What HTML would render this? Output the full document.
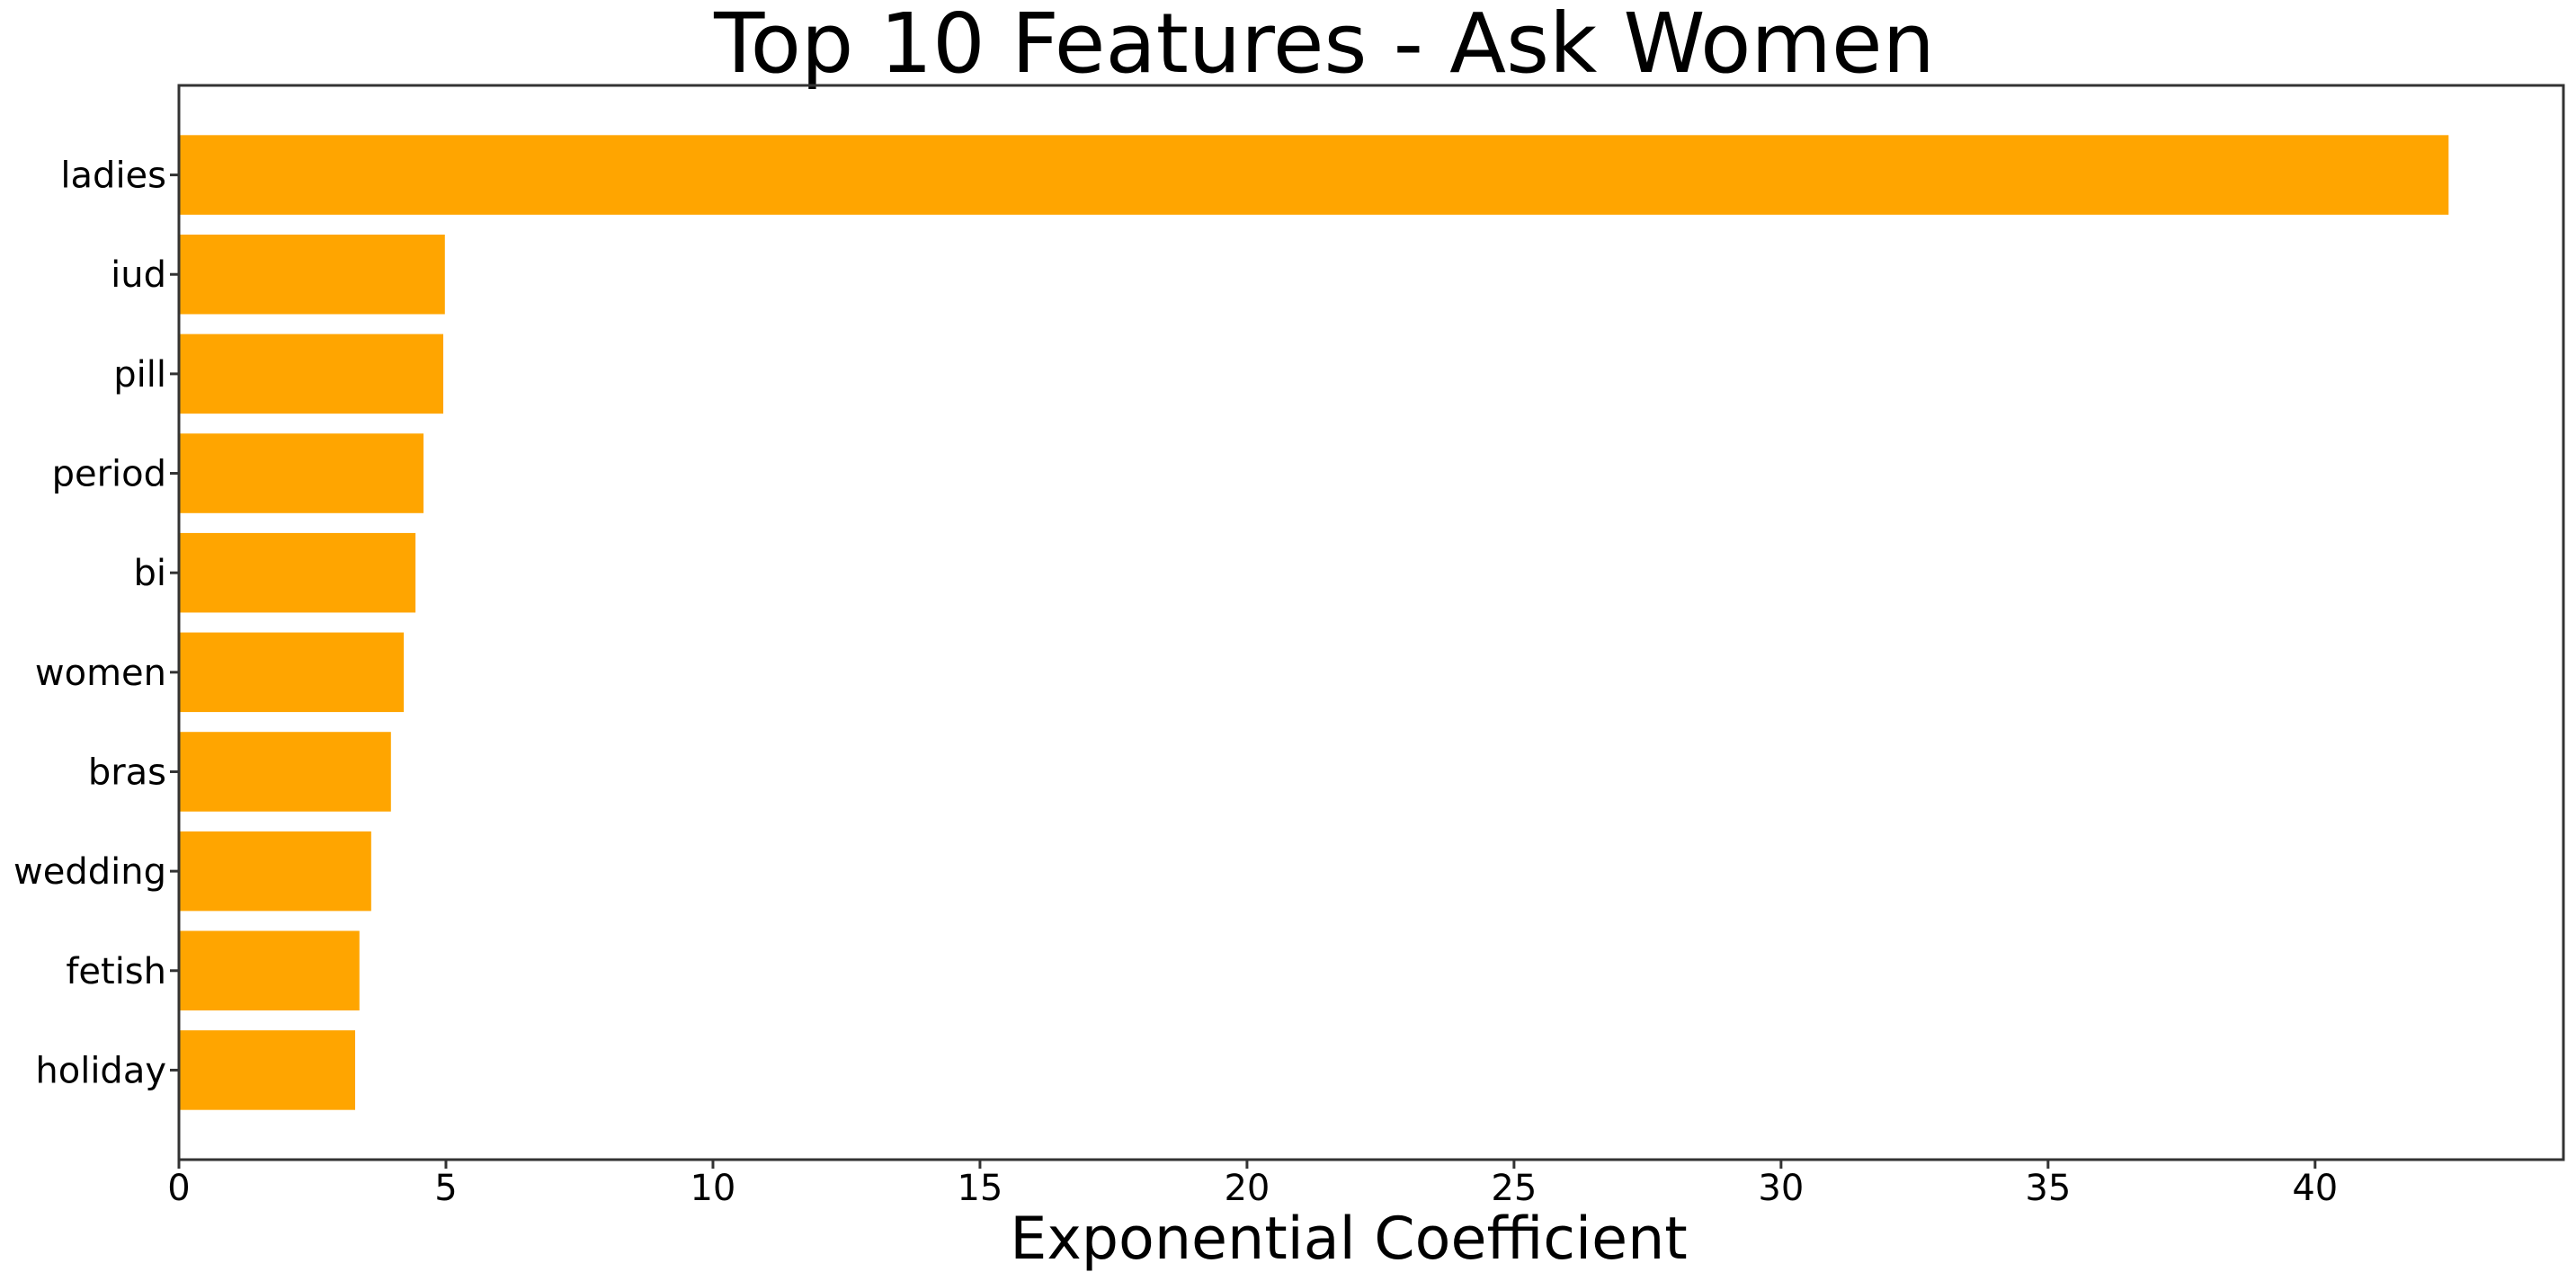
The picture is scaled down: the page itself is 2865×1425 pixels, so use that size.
<!DOCTYPE html>
<html><head><meta charset="utf-8"><style>
html,body{margin:0;padding:0;background:#fff;}
svg{display:block;font-family:"DejaVu Sans","Liberation Sans",sans-serif;}
</style></head><body>
<svg id="chart" width="2865" height="1425" xmlns="http://www.w3.org/2000/svg">
<text x="1473" y="80" font-size="92" text-anchor="middle">Top 10 Features - Ask Women</text>
<text x="1500" y="1400" font-size="65" text-anchor="middle">Exponential Coefficient</text>
<g id="bars"></g><g id="xticks"></g><g id="yticks"></g>
<rect x="199" y="95" width="2652" height="1195" fill="none" stroke="#333" stroke-width="3"/>
</svg>
<script>
const categories = ["ladies","iud","pill","period","bi","women","bras","wedding","fetish","holiday"];
const values = [42.5,4.98,4.95,4.58,4.43,4.21,3.97,3.60,3.38,3.30];
const xTicks = [0,5,10,15,20,25,30,35,40];
const NS="http://www.w3.org/2000/svg";
const L=199,R=2851,T=95,B=1290,XMAX=44.65;
const xs=v=>L+v/XMAX*(R-L);
const pitch=(B-T)/(categories.length+0.8);
const yc=i=>T+pitch*(0.9+i);
function mk(tag,attrs,parent){const e=document.createElementNS(NS,tag);for(const k in attrs)e.setAttribute(k,attrs[k]);parent.appendChild(e);return e;}
const gb=document.getElementById('bars'),gx=document.getElementById('xticks'),gy=document.getElementById('yticks');
categories.forEach((c,i)=>{
  const r=mk('rect',{x:xs(0),y:yc(i)-pitch*0.4,width:xs(values[i])-xs(0),height:pitch*0.8,fill:'#ffa500'},gb);
  
  
  const t=mk('line',{x1:L-10,x2:L,y1:yc(i),y2:yc(i),stroke:'#333','stroke-width':3},gy);
  
  
  const lb=mk('text',{x:L-14,y:yc(i)+14,'font-size':40,'text-anchor':'end'},gy);
  lb.textContent=c;
  
  
});
xTicks.forEach(v=>{
  const t=mk('line',{x1:xs(v),x2:xs(v),y1:B,y2:B+10,stroke:'#333','stroke-width':3},gx);
  
  
  const lb=mk('text',{x:xs(v),y:B+45,'font-size':40,'text-anchor':'middle'},gx);
  lb.textContent=v;
  
  
});
</script>
</body></html>
